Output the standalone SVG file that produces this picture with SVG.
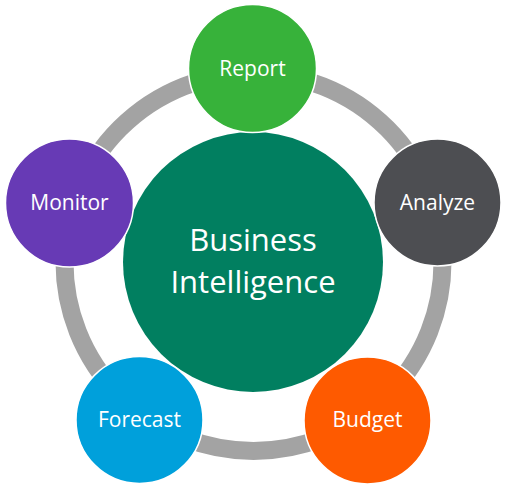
<svg xmlns="http://www.w3.org/2000/svg" width="506" height="490" viewBox="0 0 506 490">
<style>
.node{stroke:#ffffff;stroke-width:1.5}
.lbl{font-family:"Open Sans","Noto Sans","Liberation Sans",sans-serif;font-size:21px;fill:#ffffff;text-anchor:middle}
.big{font-family:"Open Sans","Noto Sans","Liberation Sans",sans-serif;font-size:31px;fill:#ffffff;text-anchor:middle}
</style>
<rect width="506" height="490" fill="#ffffff"/>
<g id="connectors">
<circle cx="253.5" cy="262" r="189" fill="none" stroke="#a3a3a3" stroke-width="18"/>
</g>
<g id="center">
<circle cx="253" cy="262" r="130" fill="#017f60"/>
<text class="big" x="253" y="251">Business</text>
<text class="big" x="253" y="293">Intelligence</text>
</g>
<g id="report">
<circle class="node" cx="252.5" cy="68.5" r="64" fill="#37b23a"/>
<text class="lbl" x="252.5" y="75.5">Report</text>
</g>
<g id="analyze">
<circle class="node" cx="437.5" cy="202.5" r="63.5" fill="#4d4e52"/>
<text class="lbl" x="437.5" y="210">Analyze</text>
</g>
<g id="budget">
<circle class="node" cx="367.5" cy="420.5" r="63.5" fill="#fe5a00"/>
<text class="lbl" x="367.5" y="427">Budget</text>
</g>
<g id="forecast">
<circle class="node" cx="139.5" cy="420" r="63.5" fill="#00a0db"/>
<text class="lbl" x="139.5" y="427">Forecast</text>
</g>
<g id="monitor">
<circle class="node" cx="69.5" cy="203" r="64" fill="#673ab5"/>
<text class="lbl" x="69.5" y="210">Monitor</text>
</g>
</svg>
